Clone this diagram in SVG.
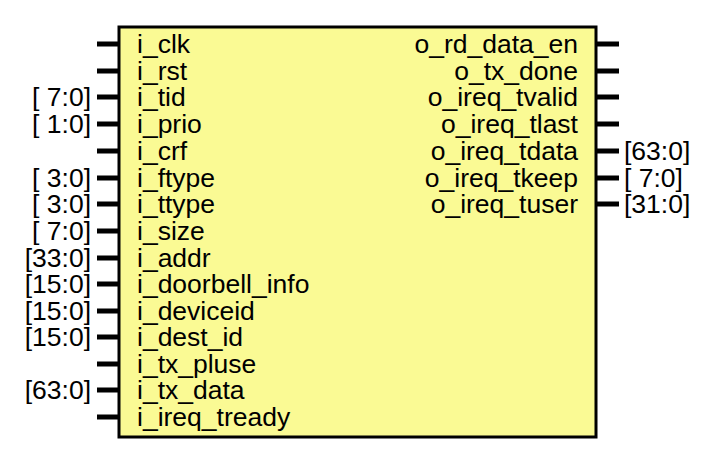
<svg xmlns="http://www.w3.org/2000/svg" width="709" height="463" viewBox="0 0 709 463">
<style>
text{font-family:"Liberation Sans",Arial,sans-serif;font-size:26.5px;fill:#000}
.r{text-anchor:end}
.pin{stroke:#000;stroke-width:5}
</style>
<rect width="709" height="463" fill="#fff"/>
<g id="block">
<rect x="119" y="27" width="477" height="410" fill="#FAFA94" stroke="#000" stroke-width="3"/>
</g>
<g id="connectors">
<path class="pin" d="M97 44H118M97 71H118M97 97H118M97 124H118M97 151H118M97 178H118M97 204H118M97 231H118M97 258H118M97 284H118M97 311H118M97 337H118M97 364H118M97 390H118M97 417H118"/>
<path class="pin" d="M597 44H619M597 71H619M597 97H619M597 124H619M597 151H619M597 178H619M597 204H619"/>
</g>
<g id="left-labels">
<text x="137" y="53">i_clk</text>
<text x="137" y="80">i_rst</text>
<text x="137" y="106">i_tid</text>
<text x="137" y="133">i_prio</text>
<text x="137" y="160">i_crf</text>
<text x="137" y="187">i_ftype</text>
<text x="137" y="213">i_ttype</text>
<text x="137" y="240">i_size</text>
<text x="137" y="267">i_addr</text>
<text x="137" y="293">i_doorbell_info</text>
<text x="137" y="320">i_deviceid</text>
<text x="137" y="346">i_dest_id</text>
<text x="137" y="373">i_tx_pluse</text>
<text x="137" y="399">i_tx_data</text>
<text x="137" y="426">i_ireq_tready</text>
</g>
<g id="left-widths">
<text class="r" x="91" y="106">[ 7:0]</text>
<text class="r" x="91" y="133">[ 1:0]</text>
<text class="r" x="91" y="187">[ 3:0]</text>
<text class="r" x="91" y="213">[ 3:0]</text>
<text class="r" x="91" y="240">[ 7:0]</text>
<text class="r" x="91" y="267">[33:0]</text>
<text class="r" x="91" y="293">[15:0]</text>
<text class="r" x="91" y="320">[15:0]</text>
<text class="r" x="91" y="346">[15:0]</text>
<text class="r" x="91" y="399">[63:0]</text>
</g>
<g id="right-labels">
<text class="r" x="578" y="53">o_rd_data_en</text>
<text class="r" x="578" y="80">o_tx_done</text>
<text class="r" x="578" y="106">o_ireq_tvalid</text>
<text class="r" x="578" y="133">o_ireq_tlast</text>
<text class="r" x="578" y="160">o_ireq_tdata</text>
<text class="r" x="578" y="187">o_ireq_tkeep</text>
<text class="r" x="578" y="213">o_ireq_tuser</text>
</g>
<g id="right-widths">
<text x="624" y="160">[63:0]</text>
<text x="624" y="187">[ 7:0]</text>
<text x="624" y="213">[31:0]</text>
</g>
</svg>
